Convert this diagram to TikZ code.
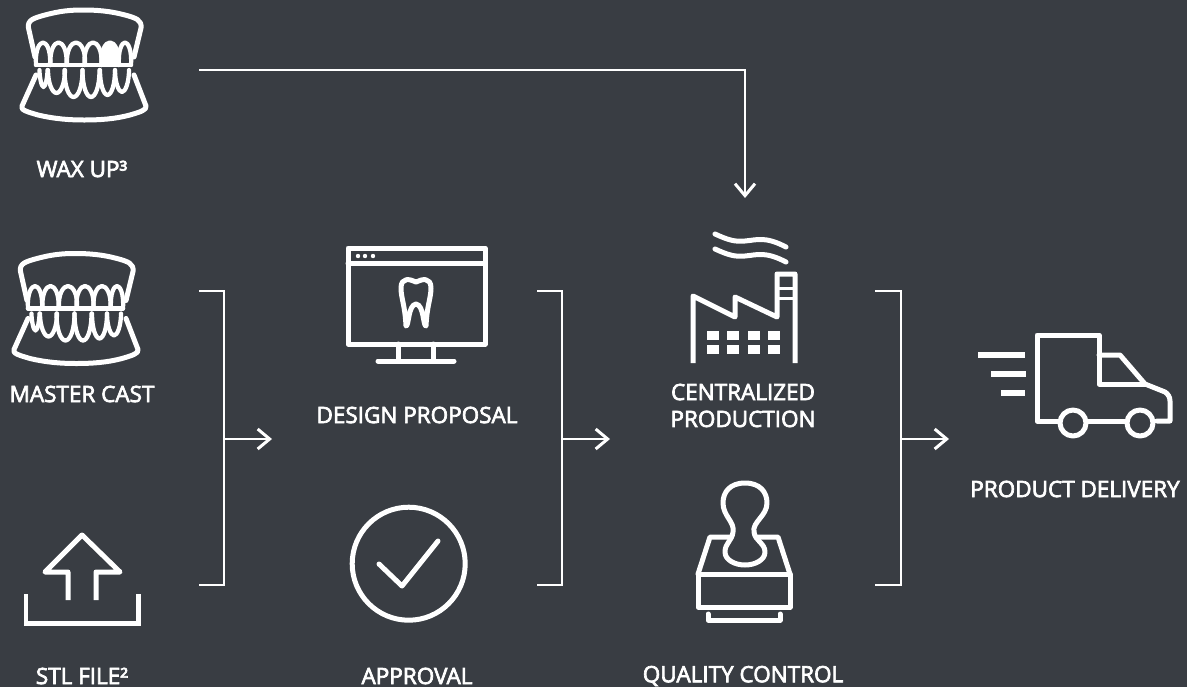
\documentclass[tikz,border=0pt]{standalone}
\usepackage{fontspec}
\setmainfont{Open Sans}[FakeBold=3]
\usetikzlibrary{arrows.meta}
\definecolor{slate}{HTML}{393D43}
\tikzset{
  flow/.style={white, line width=0.42mm, -{Straight Barb[length=2.4mm,width=4mm,line width=0.6mm]}},
  bracket/.style={white, line width=0.45mm},
  icon/.style={white, line width=1mm, line join=round, line cap=round},
  thinicon/.style={icon, line width=0.85mm},
  label/.style={white, font=\fontsize{12.8}{15.3}\selectfont, align=center, inner sep=0pt},
  teeth/.pic={
    % Base superior e inferior
    \draw[icon] (35,57) -- (28.5,28) .. controls (27,20) and (34,18) .. (45,15) .. controls (60,11) and (70,10) .. (83,10) .. controls (97,10) and (110,11) .. (125,15) .. controls (136,18) and (142,20) .. (141,28) -- (134,57);
    \draw[icon] (36,75) -- (22,106) .. controls (20,110) and (28,112) .. (38,115) .. controls (55,119) and (70,120) .. (84,120) .. controls (100,120) and (115,119) .. (130,115) .. controls (140,112) and (147,110) .. (146,106) -- (134,75);
    \draw[thinicon] (36,65) -- (131,65);
    % Dentes
    \foreach \x/\h in {43/7,58.5/8,76/9,93/8.5,110/8.5,125/6}
      \draw[thinicon] ({\x-\h},65) .. controls ({\x-\h-1},50) and ({\x-\h/2},42.5) .. (\x,42.5) .. controls ({\x+\h/2},42.5) and ({\x+\h+1},50) .. ({\x+\h},65);
    \foreach \x/\h/\b in {43.5/4/87,56.5/8.5/93,73.5/9/97,91/8.5/97,107.5/7.5/95,122/7/92}
      \draw[thinicon] ({\x-\h},70) .. controls ({\x-\h},{\b-10}) and ({\x-\h/2},\b) .. (\x,\b) .. controls ({\x+\h/2},\b) and ({\x+\h},{\b-10}) .. ({\x+\h},70);
  }
}
\begin{document}
\begin{tikzpicture}[x=0.02cm, y=-0.02cm]
    \fill[slate] (0,0) rectangle (1187,687);
    \useasboundingbox (0,0) rectangle (1187,687);

    % Modelos
    \pic at (0,0) {teeth};
    \fill[white] (101.5,65) .. controls (100.5,50) and (105.75,42.5) .. (110,42.5) .. controls (114.25,42.5) and (119.5,50) .. (118.5,65) -- cycle;
    \pic at (-8,243.5) {teeth};

    % Upload
    \draw[icon, line cap=butt, line join=miter] (26,594) -- (26,623) -- (138,623) -- (138,594);
    \draw[icon, line cap=butt] (68,600) -- (68,572) -- (45,572) -- (82,535) -- (120,572) -- (96,572) -- (96,600);

    % Monitor
    \draw[icon] (348,248) rectangle (485,344);
    \draw[icon] (348,263) -- (485,263);
    \foreach \x in {358,365,373}
      \fill[white] (\x,256) circle (2.2);
    \draw[icon] (398,344) -- (398,361) (433,344) -- (433,361);
    \draw[icon] (378,361) -- (454,361);
    \draw[icon] (416,282) .. controls (410,279) and (401,277) .. (401,288) .. controls (401,298) and (405,305) .. (406,326) .. controls (409,326) and (408,305) .. (416,304) .. controls (424,305) and (423,326) .. (426,326) .. controls (427,305) and (431,298) .. (431,288) .. controls (431,277) and (422,279) .. (416,282) -- cycle;

    % Aprovacao
    \draw[icon] (408.7,563.7) circle (56.5);
    \draw[icon] (379,564) -- (402,586) -- (438,541);

    % Fabrica
    \foreach \y in {0,15}{
      \draw[icon] (715,{234+\y}) .. controls (728,{240+\y}) and (735,{242+\y}) .. (745,{241+\y}) .. controls (757,{240+\y}) and (765,{236+\y}) .. (786,{247+\y});
    }
    \draw[icon, line cap=butt] (693,363) -- (693,296) -- (735,317) -- (735,297) -- (777,317) -- (777,274) -- (795,274) -- (795,363);
    \draw[icon, line cap=butt, line width=0.6mm] (777,288) -- (795,288) (777,298) -- (795,298);
    \foreach \x in {707,727,748,768}
      \foreach \y in {331,345}
        \fill[white] (\x,\y) rectangle ({\x+12},{\y+9});

    % Carimbo
    \draw[icon] (745,483) .. controls (730,483) and (723,492) .. (723,503) .. controls (723,516) and (735,522) .. (733,532) .. controls (732,541) and (725,543) .. (725,552) .. controls (725,560) and (735,565) .. (745,565) .. controls (755,565) and (765,560) .. (765,552) .. controls (765,543) and (755,541) .. (754,532) .. controls (752,522) and (767,516) .. (767,503) .. controls (767,492) and (760,483) .. (745,483) -- cycle;
    \draw[icon] (731,537) -- (710,537) -- (698,574) (758,537) -- (778,537) -- (790,574);
    \draw[icon] (698,574) rectangle (790,607);
    \draw[icon] (708,614) -- (708,620) -- (780,620) -- (780,614);

    % Caminhao
    \draw[icon] (1058,421) -- (1037,421) -- (1037,335) -- (1099,335) -- (1099,384) -- (1145,384);
    \draw[icon] (1099,355) -- (1120,355) -- (1145,384) -- (1165,392) .. controls (1168,394) and (1170,397) .. (1170,401) -- (1170,421) -- (1157,421);
    \draw[icon] (1088,421) -- (1125,421);
    \draw[icon] (1073,423) circle (13) (1140,423) circle (13);
    \draw[icon, line cap=butt, line width=1.1mm] (978,355) -- (1025,355) (991,374) -- (1026,374) (1001,393) -- (1025,393);

    % Textos
    \node[label] (waxup) at (82,169) {WAX UP³};
    \node[label] (mastercast) at (82,394) {MASTER CAST};
    \node[label] (stlfile) at (82,676) {STL FILE²};
    \node[label] (design) at (417,415) {DESIGN PROPOSAL};
    \node[label] (approval) at (417,676) {APPROVAL};
    \node[label] (production) at (743,405.5) {CENTRALIZED\\PRODUCTION};
    \node[label] (quality) at (743,676) {QUALITY CONTROL};
    \node[label] (delivery) at (1075,489) {PRODUCT DELIVERY};

    % Ligacoes
    \coordinate (waxout) at (199,70);
    \coordinate (waxturn) at (745,70);
    \coordinate (prodin) at (745,198);
    \draw[flow] (waxout) -- (waxturn) -- (prodin);

    \foreach \xa/\xb/\name in {199/224/a, 537/562/b, 875/901/c}{
      \coordinate (top\name) at (\xa,291);
      \coordinate (bot\name) at (\xa,585);
      \coordinate (mid\name) at (\xb,439);
      \coordinate (end\name) at ({\xb+48},439);
      \draw[bracket] (top\name) -- (\xb,291) -- (\xb,585) -- (bot\name);
      \draw[flow] (mid\name) -- (end\name);
    }
\end{tikzpicture}
\end{document}
